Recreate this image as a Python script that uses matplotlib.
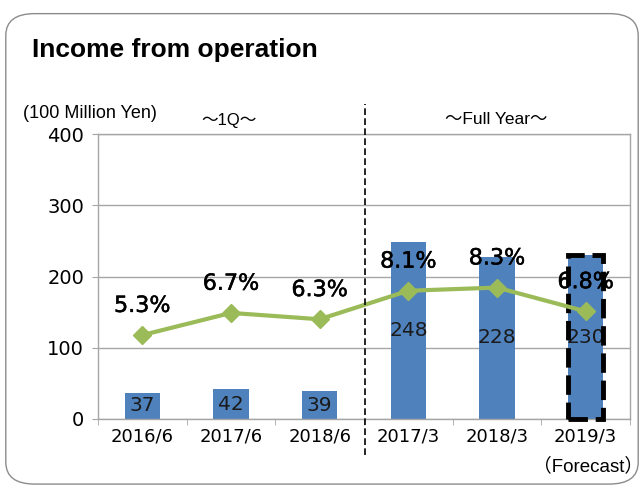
import numpy as np
import matplotlib.pyplot as plt
import matplotlib.patheffects as pe
from matplotlib.patches import FancyBboxPatch, Rectangle

plt.rcParams['font.family'] = ['DejaVu Sans', 'Noto Sans CJK JP']

categories = ['2016/6', '2017/6', '2018/6', '2017/3', '2018/3', '2019/3']
income = [37, 42, 39, 248, 228, 230]
margin = [5.3, 6.7, 6.3, 8.1, 8.3, 6.8]
margin_labels = ['5.3%', '6.7%', '6.3%', '8.1%', '8.3%', '6.8%']

bar_color = '#4F81BD'
line_color = '#9BBB59'
grid_color = '#A6A6A6'

fig = plt.figure(figsize=(6.44, 4.87), dpi=100)

# rounded outer frame
frame = FancyBboxPatch((0.009, 0.006), 0.982, 0.966,
                       boxstyle='round,pad=0,rounding_size=0.045',
                       transform=fig.transFigure, fill=False,
                       edgecolor='#8C8C8C', linewidth=1.0)
fig.patches.append(frame)

fig.text(32 / 644, 1 - 57 / 487, 'Income from operation', family='Liberation Sans',
         fontsize=19, fontweight='bold', va='baseline')

ax = fig.add_axes([98 / 644, 1 - 419 / 487, 532 / 644, 285 / 487])
x = np.arange(len(categories))
ax.bar(x, income, width=0.4, color=bar_color, zorder=2)
ax.set_xlim(-0.5, len(categories) - 0.5)
ax.set_ylim(0, 400)
ax.set_yticks([0, 100, 200, 300, 400])
ax.tick_params(axis='y', labelsize=14, length=4, color=grid_color, pad=6)
ax.set_xticks(x)
ax.set_xticklabels(categories)
ax.tick_params(axis='x', labelsize=13, length=0, pad=6)
ax.set_xticks(np.arange(-0.5, len(categories)), minor=True)
ax.tick_params(axis='x', which='minor', length=4, color=grid_color)
ax.yaxis.grid(True, color=grid_color, linewidth=1.0, zorder=0)
ax.set_axisbelow(True)
for s in ax.spines.values():
    s.set_color(grid_color)
    s.set_linewidth(1.0)

for xi, v in zip(x, income):
    ax.text(xi, v / 2, str(v), ha='center', va='center', fontsize=14.5,
            color='#1a1a1a', zorder=4)

# forecast outline
ax.add_patch(Rectangle((x[-1] - 0.2, 0), 0.4, income[-1], fill=False,
                       edgecolor='black', linewidth=3.5, linestyle=(0, (4, 1.6)),
                       zorder=5, clip_on=False))

ax2 = ax.twinx()
ax2.set_ylim(0, 18)
ax2.plot(x, margin, color=line_color, linewidth=3, marker='D',
         markersize=9, zorder=3)
ax2.set_yticks([])
for s in ax2.spines.values():
    s.set_visible(False)
for xi, v, lab in zip(x, margin, margin_labels):
    ax2.annotate(lab, (xi, v), xytext=(0, 21), textcoords='offset points',
                 ha='center', va='center', fontsize=16, zorder=6,
                 path_effects=[pe.withStroke(linewidth=0.35, foreground='black')])

# divider between quarter and full-year
fig.add_artist(plt.Line2D([365 / 644, 365 / 644], [1 - 455 / 487, 1 - 104 / 487],
                          color='black', linewidth=1.2, linestyle=(0, (4, 2))))

fig.text(23 / 644, 1 - 113 / 487, '(100 Million Yen)', fontsize=13,
         family='Liberation Sans', va='center')
fig.text(229 / 644, 1 - 120 / 487, '～1Q～', fontsize=12, ha='center', va='center',
         family=['Liberation Sans', 'Noto Sans CJK JP'])
fig.text(496 / 644, 1 - 120 / 487, '～Full Year～', fontsize=12.5, ha='center', va='center',
         family=['Liberation Sans', 'Noto Sans CJK JP'])
fig.text(643 / 644, 1 - 466 / 487, '（Forecast）', fontsize=13.5, ha='right', va='center',
         family=['Liberation Sans', 'Noto Sans CJK JP'])

fig.savefig('out.png', dpi=100)
